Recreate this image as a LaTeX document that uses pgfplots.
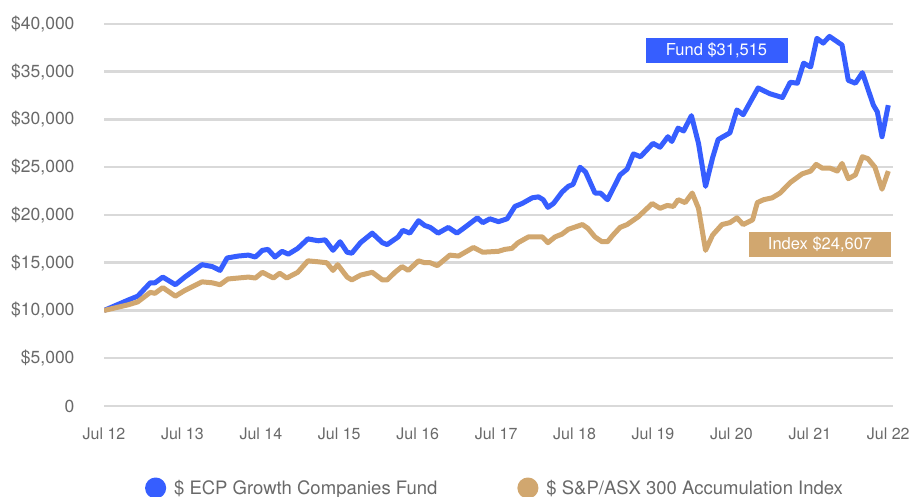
\documentclass[border=0pt]{standalone}
\usepackage{fontspec}
\setmainfont{TeX Gyre Heros}
\usepackage{pgfplots}
\pgfplotsset{compat=1.18}
\definecolor{fundblue}{RGB}{54,94,255}
\definecolor{idxgold}{RGB}{209,167,111}
\definecolor{ticktext}{RGB}{105,105,105}
\definecolor{gridc}{RGB}{217,217,217}
\begin{document}
\begin{tikzpicture}[x=1pt,y=1pt]
\useasboundingbox (0,0) rectangle (911,497);
\begin{axis}[
  at={(104pt,91pt)}, anchor=south west,
  scale only axis, width=789pt, height=382pt,
  xmin=0, xmax=10.06, ymin=0, ymax=40000,
  scaled ticks=false,
  axis line style={draw=none},
  major tick length=0pt,
  ymajorgrids, grid style={gridc, line width=2.5pt},
  ytick={0,5000,10000,15000,20000,25000,30000,35000,40000},
  yticklabels={0,{\$5,000},{\$10,000},{\$15,000},{\$20,000},{\$25,000},{\$30,000},{\$35,000},{\$40,000}},
  xtick={0,1,2,3,4,5,6,7,8,9,10},
  xticklabels={Jul 12,Jul 13,Jul 14,Jul 15,Jul 16,Jul 17,Jul 18,Jul 19,Jul 20,Jul 21,Jul 22},
  yticklabel style={font=\fontsize{17.5}{19}\selectfont, text=ticktext, anchor=east, xshift=-26pt},
  xticklabel style={font=\fontsize{16}{18}\selectfont, text=ticktext, anchor=north, yshift=-18pt},
  legend style={at={(0.4956,-0.2147)}, anchor=center, draw=none, fill=none,
    font=\fontsize{18.5}{20}\selectfont, text=ticktext, legend columns=2,
    /tikz/every even column/.append style={column sep=78pt}},
  legend image code/.code={\fill[#1] (0pt,0pt) circle (8pt); \path (14pt,0pt);},
]
\addplot[fundblue, line width=5pt, line join=round] coordinates {
(0,10.0e3)(0.31,11.1e3)(0.43,11.5e3)(0.59,12.9e3)(0.65,12.9e3)(0.75,13.5e3)(0.91,12.7e3)
(1.03,13.5e3)(1.25,14.8e3)(1.38,14.6e3)(1.48,14.2e3)(1.57,15.5e3)(1.71,15.7e3)(1.84,15.8e3)(1.93,15.6e3)
(2.02,16.3e3)(2.09,16.4e3)(2.18,15.6e3)(2.27,16.2e3)(2.35,15.9e3)(2.47,16.5e3)(2.60,17.5e3)(2.73,17.3e3)(2.82,17.4e3)(2.92,16.3e3)
(3.01,17.2e3)(3.10,16.1e3)(3.16,16.0e3)(3.27,17.1e3)(3.42,18.1e3)(3.55,17.1e3)(3.61,16.9e3)(3.75,17.7e3)(3.81,18.4e3)(3.90,18.1e3)
(4.01,19.4e3)(4.09,18.9e3)(4.16,18.7e3)(4.26,18.1e3)(4.39,18.7e3)(4.50,18.1e3)(4.60,18.7e3)(4.76,19.7e3)(4.83,19.2e3)(4.92,19.6e3)
(5.03,19.3e3)(5.14,19.6e3)(5.24,20.9e3)(5.33,21.2e3)(5.46,21.8e3)(5.54,21.9e3)(5.60,21.6e3)(5.66,20.8e3)(5.73,21.2e3)(5.84,22.4e3)(5.92,23.0e3)(5.98,23.2e3)
(6.07,25.0e3)(6.14,24.5e3)(6.26,22.3e3)(6.33,22.3e3)(6.42,21.6e3)(6.58,24.2e3)(6.67,24.8e3)(6.75,26.4e3)(6.84,26.1e3)
(7.00,27.5e3)(7.09,27.1e3)(7.19,28.2e3)(7.24,27.7e3)(7.32,29.1e3)(7.39,28.8e3)(7.49,30.4e3)(7.58,27.5e3)(7.67,23.0e3)(7.76,26.0e3)(7.83,27.9e3)(7.98,28.6e3)
(8.07,31.0e3)(8.15,30.5e3)(8.34,33.3e3)(8.49,32.7e3)(8.65,32.3e3)(8.75,33.9e3)(8.84,33.8e3)(8.92,35.9e3)
(9.01,35.5e3)(9.09,38.5e3)(9.17,38.0e3)(9.25,38.7e3)(9.41,37.8e3)(9.49,34.1e3)(9.58,33.8e3)(9.67,34.9e3)(9.81,31.5e3)(9.86,30.8e3)(9.92,28.2e3)(10.0,31.5e3)
};
\addlegendentry{\$ ECP Growth Companies Fund}
\addplot[idxgold, line width=5pt, line join=round] coordinates {
(0,10.0e3)(0.31,10.6e3)(0.43,10.9e3)(0.59,11.9e3)(0.65,11.8e3)(0.75,12.4e3)(0.91,11.5e3)
(1.03,12.1e3)(1.25,13.0e3)(1.38,12.9e3)(1.48,12.7e3)(1.58,13.3e3)(1.71,13.4e3)(1.84,13.5e3)(1.93,13.4e3)
(2.02,14.0e3)(2.16,13.4e3)(2.24,13.9e3)(2.33,13.4e3)(2.47,14.0e3)(2.60,15.2e3)(2.73,15.1e3)(2.84,15.0e3)(2.92,14.2e3)(2.98,14.8e3)
(3.10,13.5e3)(3.16,13.2e3)(3.27,13.7e3)(3.42,14.0e3)(3.55,13.2e3)(3.61,13.2e3)(3.71,14.0e3)(3.80,14.6e3)(3.88,14.2e3)
(4.01,15.2e3)(4.09,15.0e3)(4.16,15.0e3)(4.25,14.7e3)(4.41,15.8e3)(4.52,15.7e3)(4.71,16.6e3)(4.83,16.1e3)
(5.03,16.2e3)(5.11,16.4e3)(5.20,16.5e3)(5.28,17.1e3)(5.41,17.7e3)(5.59,17.7e3)(5.66,17.1e3)(5.75,17.7e3)(5.84,18.0e3)(5.92,18.5e3)
(6.10,19.0e3)(6.17,18.6e3)(6.26,17.7e3)(6.35,17.2e3)(6.42,17.2e3)(6.49,17.9e3)(6.58,18.7e3)(6.67,19.0e3)(6.81,19.8e3)(6.99,21.2e3)
(7.09,20.7e3)(7.18,21.0e3)(7.26,20.9e3)(7.32,21.6e3)(7.41,21.3e3)(7.50,22.3e3)(7.58,20.7e3)(7.67,16.3e3)(7.76,17.9e3)(7.88,19.0e3)(7.98,19.2e3)
(8.07,19.7e3)(8.15,19.0e3)(8.27,19.5e3)(8.33,21.3e3)(8.41,21.6e3)(8.52,21.8e3)(8.62,22.3e3)(8.75,23.4e3)(8.90,24.3e3)
(9.01,24.6e3)(9.08,25.3e3)(9.16,24.9e3)(9.26,24.9e3)(9.35,24.6e3)(9.41,25.4e3)(9.49,23.8e3)(9.58,24.2e3)(9.67,26.1e3)(9.74,25.9e3)(9.83,25.0e3)(9.92,22.7e3)(10.0,24.6e3)
};
\addlegendentry{\$ S\&P/ASX 300 Accumulation Index}
\node[fill=fundblue, text=white, minimum width=142pt, minimum height=25pt, inner sep=0pt,
  font=\fontsize{16.5}{18}\selectfont] at (axis cs:7.81,37200) {Fund \$31,515};
\node[fill=idxgold, text=white, minimum width=142pt, minimum height=25pt, inner sep=0pt,
  font=\fontsize{16.5}{18}\selectfont] at (axis cs:9.13,16900) {Index \$24,607};
\end{axis}
\end{tikzpicture}
\end{document}
